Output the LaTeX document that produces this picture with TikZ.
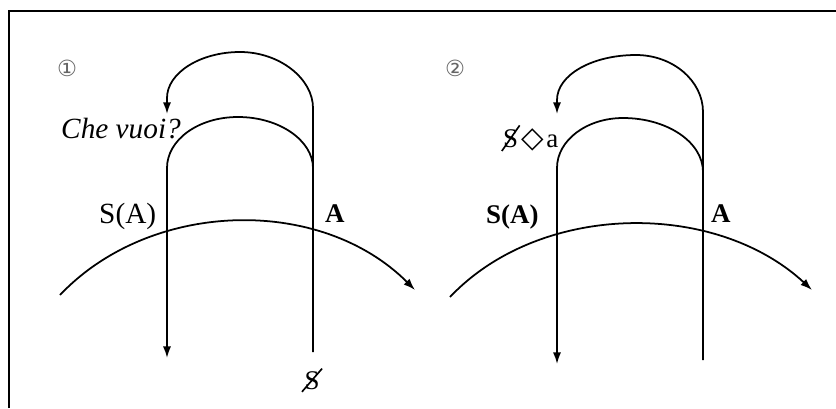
\documentclass[tikz,border=0pt]{standalone}
\usepackage{fontspec}
\setmainfont{Liberation Serif}
\newfontfamily\symfont{DejaVu Sans}
\usetikzlibrary{arrows.meta}
\tikzset{
    curve/.style={draw=black,line width=1.5pt},
    arrow/.style={curve,-{Latex[length=10pt,width=7pt]}},
    lbl/.style={inner sep=0pt,font=\fontsize{23}{27}\selectfont},
    boldlbl/.style={lbl,font=\fontsize{23}{27}\selectfont\bfseries},
    numlbl/.style={inner sep=0pt,text=black!60,font=\symfont\fontsize{19}{22}\selectfont},
    slash/.style={draw=black,line width=1.4pt}
}

\begin{document}
\begin{tikzpicture}[x=0.3mm,y=-0.3mm]
    \useasboundingbox (0,0) rectangle (836,408);
    \draw[line width=1.6pt] (9,408) -- (9,11) -- (836,11);

    % first graph
    \node[numlbl] (num1) at (67,68) {①};
    \coordinate (subjA) at (313,352);
    \coordinate (retA) at (167,114);
    \coordinate (archA) at (313,168);
    \coordinate (downA) at (167,358);
    \coordinate (startA) at (60,295);
    \coordinate (endA) at (415,290);
    \draw[arrow] (subjA) -- (313,108) .. controls (313,79) and (280,52) .. (240,52)
        .. controls (200,52) and (167,73) .. (167,98) -- (retA);
    \draw[arrow] (archA) .. controls (313,141) and (280,117) .. (238,117)
        .. controls (198,117) and (167,140) .. (167,168) -- (downA);
    \draw[arrow] (startA) .. controls (150,200) and (320,195) .. (endA);
    \node[lbl,anchor=base west,font=\fontsize{25}{29}\selectfont\itshape] (chevuoi) at (61,138) {Che vuoi?};
    \node[lbl,anchor=base west,font=\fontsize{25}{29}\selectfont] (sigA) at (99,223) {S(A)};
    \node[boldlbl,anchor=base west] (otherA) at (325,222) {A};
    \node[lbl,anchor=base] (barS) at (312,389) {S};
    \draw[slash] ([xshift=-2pt,yshift=-2pt]barS.south west) -- ([xshift=2pt,yshift=2pt]barS.north east);

    % second graph
    \node[numlbl] (num2) at (455,68) {②};
    \coordinate (subjB) at (703,360);
    \coordinate (retB) at (557,114);
    \coordinate (archB) at (703,172);
    \coordinate (downB) at (557,364);
    \coordinate (startB) at (450,297);
    \coordinate (endB) at (812,290);
    \draw[arrow] (subjB) -- (703,112) .. controls (703,81) and (673,55) .. (636,55)
        .. controls (592,55) and (557,75) .. (557,100) -- (retB);
    \draw[arrow] (archB) .. controls (703,142) and (667,118) .. (623,118)
        .. controls (587,118) and (557,140) .. (557,168) -- (downB);
    \draw[arrow] (startB) .. controls (540,202) and (715,200) .. (endB);
    \node[lbl,anchor=base west] (barS2) at (503,147) {S};
    \draw[slash] ([xshift=-1pt,yshift=-3pt]barS2.south west) -- ([xshift=1pt,yshift=3pt]barS2.north east);
    \node[lbl,anchor=base west,font=\symfont\fontsize{25}{29}\selectfont] (lozenge) at ([xshift=2pt]barS2.base east) {◇};
    \node[lbl,anchor=base west] (objA) at ([xshift=2pt]lozenge.base east) {a};
    \node[boldlbl,anchor=base west] (sigB) at (486,223) {S(A)};
    \node[boldlbl,anchor=base west] (otherB) at (711,222) {A};
\end{tikzpicture}
\end{document}
